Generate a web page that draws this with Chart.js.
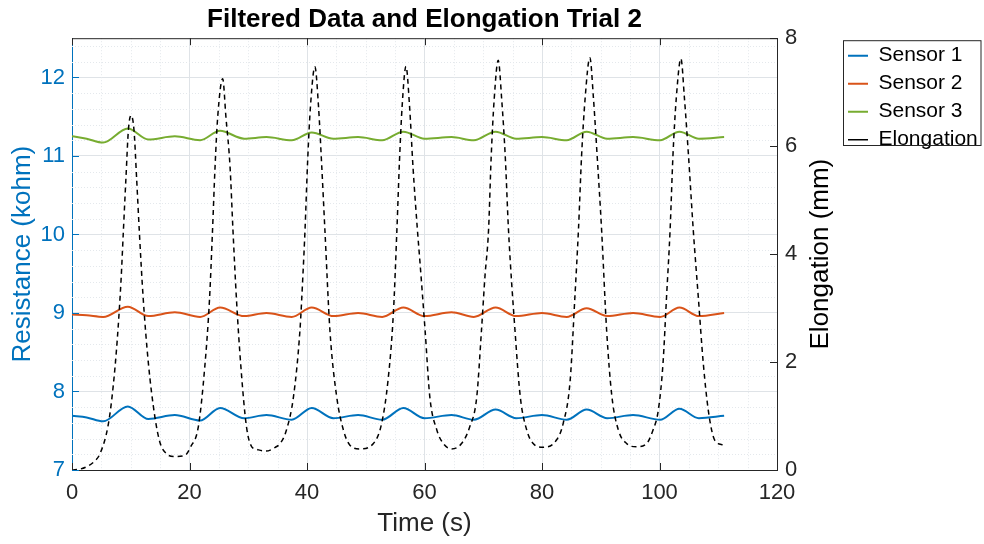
<!DOCTYPE html>
<html>
<head>
<meta charset="utf-8">
<script src="https://cdn.jsdelivr.net/npm/chart.js@4.4.1/dist/chart.umd.min.js"></script>
<style>
  html, body { margin: 0; padding: 0; background: #fff; }
</style>
</head>
<body>
<canvas id="chart" width="984" height="544"></canvas>
<script>
// values
const elongTime = [
  0, 1.5, 2.5, 3.7, 4.8, 6.2, 7.0, 7.7, 8.35, 8.75, 9.2, 9.6, 10.05, 10.55, 11.0, 11.45, 12.1, 13.0, 14.1, 15.0, 16.1, 17.4, 19.2, 20.2,
  21.5, 22.6, 23.4, 23.9, 24.35, 24.8, 25.65, 26.2, 26.9, 27.4, 28.0, 28.75, 29.7, 30.6, 31.5, 33.0, 34.6,
  35.5, 36.5, 37.7, 38.8, 39.3, 39.66, 40.1, 40.6, 41.35, 41.95, 42.5, 43.05, 43.9, 45.05, 46.2, 47.3, 49.0,
  51.3, 52.7, 53.8, 54.7, 55.3, 55.75, 56.2, 56.85, 57.45, 58.05, 58.8, 59.2, 60.1, 60.9, 62.1, 63.2, 64.6,
  66.3, 67.7, 68.9, 69.7, 70.3, 70.9, 71.35, 71.85, 72.55, 73.15, 73.75, 74.3, 75.4, 76.3, 77.4, 78.5, 80.2,
  82.5, 83.6, 84.8, 85.6, 86.2, 86.75, 87.35, 88.15, 88.75, 89.4, 90.15, 91.0, 91.9, 93.0, 94.4, 96.1,
  97.8, 98.9, 99.8, 100.6, 101.2, 101.8, 102.3, 102.85, 103.65, 104.25, 104.95, 105.75, 106.6, 107.45, 108.3, 109.15, 110.0, 110.6, 111.0
];
const elongation = [
  0.00, 0.02, 0.06, 0.15, 0.31, 0.86, 1.54, 2.41, 3.52, 4.44, 5.45, 6.30, 6.57, 6.30, 5.40, 4.44, 3.21, 1.98, 0.99, 0.50, 0.30, 0.25, 0.27, 0.43,
  0.80, 1.91, 3.15, 4.39, 5.62, 6.54, 7.25, 6.54, 5.62, 4.44, 3.15, 1.91, 0.80, 0.43, 0.38, 0.35, 0.42,
  0.50, 0.74, 1.36, 2.59, 3.60, 4.44, 5.70, 6.75, 7.47, 6.75, 5.65, 4.44, 2.59, 1.36, 0.74, 0.46, 0.39,
  0.49, 0.86, 1.67, 2.90, 4.44, 5.75, 6.75, 7.48, 6.75, 5.60, 4.44, 3.89, 2.59, 1.36, 0.74, 0.49, 0.39,
  0.49, 0.80, 1.36, 2.59, 3.60, 4.44, 5.80, 6.85, 7.59, 6.85, 5.80, 4.44, 2.59, 1.36, 0.74, 0.49, 0.42,
  0.56, 0.86, 1.67, 3.21, 4.44, 5.85, 6.90, 7.64, 6.90, 5.80, 4.44, 2.59, 1.36, 0.74, 0.49, 0.43,
  0.49, 0.74, 1.11, 1.98, 3.21, 4.44, 5.85, 6.88, 7.62, 6.88, 5.80, 4.44, 3.21, 1.98, 1.11, 0.62, 0.49, 0.47, 0.44
];

const sensorTime = [0, 2.5, 5.3, 9.5, 13.0, 17.5, 21.8, 25.2, 29.3, 33.1, 37.4, 40.8, 44.5, 48.7, 52.8, 56.4, 60.0, 64.6, 68.4, 72.1, 75.6, 80.0, 84.2, 87.6, 91.1, 95.5, 100.1, 103.4, 106.7, 111.0];
const sensor1 = [7.69, 7.67, 7.62, 7.81, 7.65, 7.70, 7.63, 7.79, 7.66, 7.70, 7.64, 7.79, 7.66, 7.70, 7.64, 7.79, 7.66, 7.70, 7.64, 7.77, 7.66, 7.70, 7.64, 7.77, 7.66, 7.70, 7.64, 7.78, 7.66, 7.69];
const sensor2 = [8.98, 8.97, 8.95, 9.08, 8.96, 9.01, 8.95, 9.07, 8.96, 9.00, 8.95, 9.07, 8.96, 9.00, 8.95, 9.07, 8.96, 9.01, 8.95, 9.07, 8.96, 9.00, 8.95, 9.06, 8.96, 9.00, 8.95, 9.07, 8.96, 9.00];
const sensor3 = [11.25, 11.22, 11.17, 11.35, 11.21, 11.25, 11.20, 11.32, 11.22, 11.24, 11.20, 11.30, 11.22, 11.24, 11.20, 11.31, 11.22, 11.24, 11.20, 11.31, 11.22, 11.24, 11.20, 11.31, 11.22, 11.24, 11.20, 11.31, 11.22, 11.24];

const timeTicks = [0, 20, 40, 60, 80, 100, 120];
const resistTicks = [7, 8, 9, 10, 11, 12];
const elongTicks = [0, 2, 4, 6, 8];

const FONT = '"Liberation Sans", Arial, Helvetica, sans-serif';
const DARK = '#262626';
const BLUE = '#0072BD';

const pts = (xs, ys) => xs.map((x, i) => ({ x: x, y: ys[i] }));
const setTicks = (list) => (scale) => { scale.ticks = list.map(v => ({ value: v })); };

// minor grid, box frame, inward ticks, right label, legend border
const matlabAxes = {
  id: 'matlabAxes',
  beforeDatasetsDraw(chart) {
    const { ctx, chartArea: a, scales: { x, yL } } = chart;
    ctx.save();
    ctx.strokeStyle = '#e4e8ec';
    ctx.lineWidth = 1;
    ctx.setLineDash([1, 2]);
    for (let t = 5; t < 120; t += 5) {
      if (t % 20 === 0) continue;
      const px = Math.round(x.getPixelForValue(t)) + 0.5;
      ctx.beginPath(); ctx.moveTo(px, a.top); ctx.lineTo(px, a.bottom); ctx.stroke();
    }
    for (let k = 36; k < 63; k++) {
      if (k % 5 === 0) continue;
      const py = Math.round(yL.getPixelForValue(k / 5)) + 0.5;
      ctx.beginPath(); ctx.moveTo(a.left, py); ctx.lineTo(a.right, py); ctx.stroke();
    }
    ctx.restore();
  },
  afterDraw(chart) {
    const { ctx, chartArea: a, scales: { x, yL, yR }, legend } = chart;
    ctx.save();
    ctx.lineWidth = 1;
    ctx.strokeStyle = DARK;
    ctx.beginPath();
    ctx.moveTo(a.left, a.top + 0.5); ctx.lineTo(a.right, a.top + 0.5);
    ctx.stroke();
    const tl = 7;
    timeTicks.forEach(v => {
      const px = Math.round(x.getPixelForValue(v)) + 0.5;
      ctx.beginPath();
      ctx.moveTo(px, a.bottom); ctx.lineTo(px, a.bottom - tl);
      ctx.moveTo(px, a.top); ctx.lineTo(px, a.top + tl);
      ctx.stroke();
    });
    elongTicks.forEach(v => {
      const py = Math.round(yR.getPixelForValue(v)) + 0.5;
      ctx.beginPath(); ctx.moveTo(a.right, py); ctx.lineTo(a.right - tl, py); ctx.stroke();
    });
    ctx.strokeStyle = BLUE;
    resistTicks.forEach(v => {
      const py = Math.round(yL.getPixelForValue(v)) + 0.5;
      ctx.beginPath(); ctx.moveTo(a.left, py); ctx.lineTo(a.left + tl, py); ctx.stroke();
    });

    // right axis title reads bottom to top
    ctx.fillStyle = '#000';
    ctx.font = '26px ' + FONT;
    ctx.textAlign = 'center';
    ctx.textBaseline = 'middle';
    ctx.translate(yR.left + 44, (a.top + a.bottom) / 2);
    ctx.rotate(-Math.PI / 2);
    ctx.fillText('Elongation (mm)', 0, 0);
    ctx.restore();

    // legend frame
    const hb = legend.legendHitBoxes;
    if (hb && hb.length) {
      const last = hb[hb.length - 1];
      const x0 = legend.left + 2.5, y0 = a.top + 2.5;
      const y1 = Math.round(last.top + last.height) - 4.5;
      ctx.save();
      ctx.strokeStyle = DARK;
      ctx.lineWidth = 1;
      ctx.strokeRect(x0, y0, legend.right - 3 - x0, y1 - y0);
      ctx.restore();
    }
  }
};

new Chart(document.getElementById('chart'), {
  type: 'line',
  data: {
    datasets: [
      { label: 'Sensor 1', data: pts(sensorTime, sensor1), yAxisID: 'yL', borderColor: BLUE, borderWidth: 2, order: 1 },
      { label: 'Sensor 2', data: pts(sensorTime, sensor2), yAxisID: 'yL', borderColor: '#D95319', borderWidth: 2, order: 1 },
      { label: 'Sensor 3', data: pts(sensorTime, sensor3), yAxisID: 'yL', borderColor: '#77AC30', borderWidth: 2, order: 1 },
      { label: 'Elongation', data: pts(elongTime, elongation), yAxisID: 'yR', borderColor: '#000', borderWidth: 1.5, borderDash: [5, 4], order: 0 }
    ]
  },
  options: {
    responsive: false,
    animation: false,
    devicePixelRatio: 1,
    parsing: false,
    layout: { padding: 0 },
    elements: {
      point: { radius: 0 },
      line: { cubicInterpolationMode: 'monotone', fill: false }
    },
    plugins: {
      title: {
        display: true,
        fullSize: false,
        text: 'Filtered Data and Elongation Trial 2',
        color: '#000',
        font: { family: FONT, size: 26, weight: 'bold' },
        padding: { top: 4, bottom: 3 }
      },
      legend: {
        position: 'right',
        align: 'start',
        fullSize: false,
        maxWidth: 143,
        labels: {
          color: '#000',
          font: { family: FONT, size: 21 },
          usePointStyle: true,
          pointStyle: 'line',
          pointStyleWidth: 20,
          boxWidth: 20,
          padding: 7,
          sort: (a, b) => a.datasetIndex - b.datasetIndex
        }
      },
      tooltip: { enabled: false }
    },
    scales: {
      x: {
        type: 'linear',
        min: 0,
        max: 120,
        afterBuildTicks: setTicks(timeTicks),
        afterFit: s => { s.height = 74; },
        ticks: { color: DARK, font: { family: FONT, size: 22 }, padding: 10, maxRotation: 0 },
        grid: { color: '#dfe3e7', drawTicks: false },
        border: { color: DARK, width: 1 },
        title: { display: true, text: 'Time (s)', color: DARK, font: { family: FONT, size: 26 }, padding: { top: 0, bottom: 5 } }
      },
      yL: {
        type: 'linear',
        position: 'left',
        min: 7,
        max: 12.5,
        afterBuildTicks: setTicks(resistTicks),
        afterFit: s => { s.width = 72; },
        ticks: { color: BLUE, font: { family: FONT, size: 22 }, padding: 7 },
        grid: { color: '#dfe3e7', drawTicks: false },
        border: { color: BLUE, width: 1 },
        title: { display: true, text: 'Resistance (kohm)', color: BLUE, font: { family: FONT, size: 26 }, padding: { top: 7, bottom: 0 } }
      },
      yR: {
        type: 'linear',
        position: 'right',
        min: 0,
        max: 8,
        afterBuildTicks: setTicks(elongTicks),
        afterFit: s => { s.width = 64; },
        ticks: { color: DARK, font: { family: FONT, size: 22 }, padding: 8 },
        grid: { display: false, drawTicks: false },
        border: { color: DARK, width: 1 }
      }
    }
  },
  plugins: [matlabAxes]
});
</script>
</body>
</html>
